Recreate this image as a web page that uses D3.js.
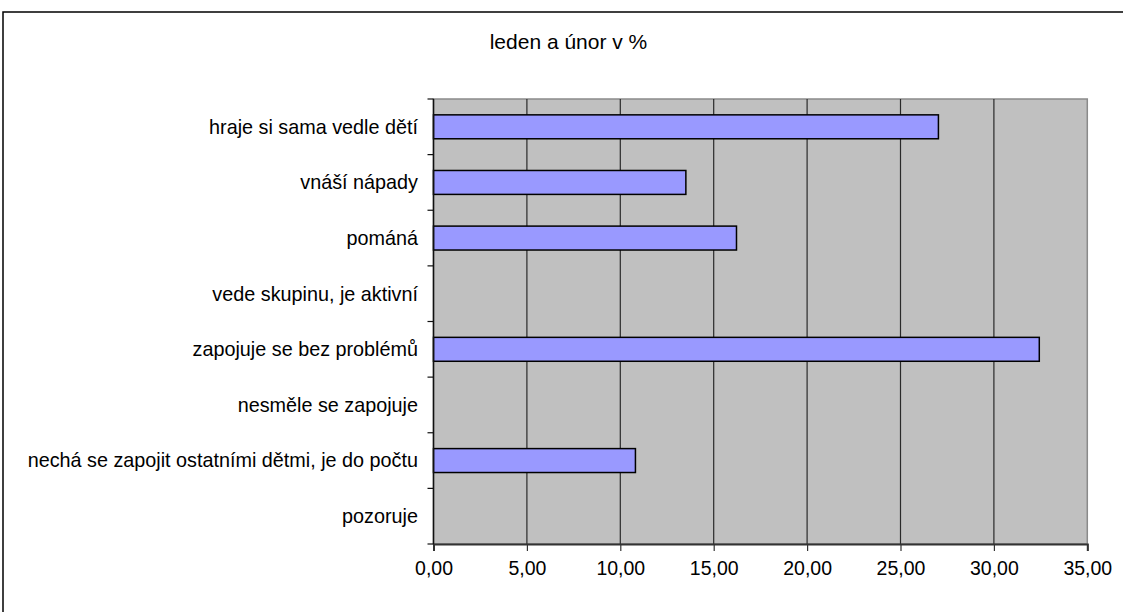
<!DOCTYPE html>
<html><head><meta charset="utf-8">
<script src="https://cdn.jsdelivr.net/npm/d3@7"></script>
<style>html,body{margin:0;padding:0;background:#fff;}svg{display:block;font-family:"Liberation Sans",Arial,sans-serif;}</style>
</head><body>
<script>
const categories = ["hraje si sama vedle dětí","vnáší nápady","pománá","vede skupinu, je aktivní","zapojuje se bez problémů","nesměle se zapojuje","nechá se zapojit ostatními dětmi, je do počtu","pozoruje"];
const values = [27.03, 13.51, 16.22, 0, 32.43, 0, 10.81, 0];
const xTicks = [0,5,10,15,20,25,30,35];
const title = "leden a únor v %";

const W = 1123, H = 612;
const svg = d3.select("body").append("svg").attr("width", W).attr("height", H);

// outer chart frame
svg.append("rect").attr("x",3).attr("y",12).attr("width",W+10).attr("height",H+10)
  .attr("fill","#fff").attr("stroke","#000").attr("stroke-width",1.5);

const L = 433.5, R = 1087.3, T = 99, B = 544;
const x = d3.scaleLinear().domain([0,35]).range([L,R]);
const y = d3.scaleBand().domain(categories).range([T,B]).paddingInner(0.57).paddingOuter(0.285);
const band = d3.scaleBand().domain(categories).range([T,B]);

svg.append("rect").attr("x",L).attr("y",T).attr("width",R-L).attr("height",B-T)
  .attr("fill","#C0C0C0").attr("stroke","#8a8a8a").attr("stroke-width",1.5);

// gridlines
svg.append("g").selectAll("line").data(xTicks.slice(1,-1)).join("line")
  .attr("x1",d=>x(d)).attr("x2",d=>x(d)).attr("y1",T).attr("y2",B)
  .attr("stroke","#2a2a2a").attr("stroke-width",1.2);

// bars
svg.append("g").selectAll("rect").data(categories.map((c,i)=>({c,v:values[i]})).filter(d=>d.v>0)).join("rect")
  .attr("x",x(0)).attr("y",d=>y(d.c)).attr("width",d=>x(d.v)-x(0)).attr("height",y.bandwidth())
  .attr("fill","#9999FF").attr("stroke","#000").attr("stroke-width",1.5);

// x axis
const xAxis = d3.axisBottom(x).tickValues(xTicks).tickSize(7).tickPadding(10)
  .tickFormat(d=>d3.format(".2f")(d).replace(".",","));
const gx = svg.append("g").attr("transform",`translate(0,${B})`).call(xAxis);
gx.select(".domain").attr("stroke","#333").attr("stroke-width",2);
gx.selectAll(".tick line").attr("stroke","#333").attr("stroke-width",1.2);
gx.selectAll("text").attr("font-size",19.5).attr("fill","#000").attr("font-family","Liberation Sans, Arial, sans-serif");

// y axis: ticks at band boundaries
const yBounds = categories.map(c=>band(c)).concat([B]);
svg.append("line").attr("x1",L).attr("x2",L).attr("y1",T).attr("y2",B).attr("stroke","#111").attr("stroke-width",1.5);
svg.append("g").selectAll("line").data(yBounds).join("line")
  .attr("x1",L-6).attr("x2",L).attr("y1",d=>d).attr("y2",d=>d).attr("stroke","#111").attr("stroke-width",1.2);
svg.append("g").selectAll("text").data(categories).join("text")
  .attr("x",418).attr("y",d=>band(d)+band.bandwidth()/2).attr("dy","0.35em")
  .attr("text-anchor","end").attr("font-size",19.8).attr("fill","#000").text(d=>d);

svg.append("text").attr("x",568.5).attr("y",49).attr("text-anchor","middle")
  .attr("font-size",21).attr("fill","#000").text(title);
</script>
</body></html>
